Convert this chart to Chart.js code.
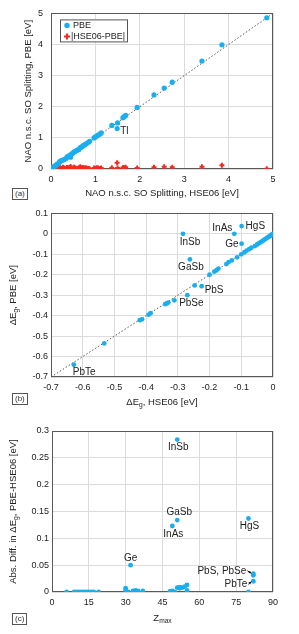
<!DOCTYPE html>
<html>
<head>
<meta charset="utf-8">
<script src="https://cdn.jsdelivr.net/npm/chart.js@4.4.1/dist/chart.umd.min.js"></script>
<style>
body{margin:0;background:#fff;width:299px;height:634px;position:relative;overflow:hidden;font-family:"Liberation Sans",Arial,sans-serif}
canvas{position:absolute;left:0}
.tag{position:absolute;border:1px solid #555;font-size:8px;line-height:10px;padding:0 2px;color:#333;background:#fff}
</style>
</head>
<body>
<canvas id="chartA" width="299" height="205" style="top:0"></canvas>
<canvas id="chartB" width="299" height="210" style="top:205px"></canvas>
<canvas id="chartC" width="299" height="219" style="top:415px"></canvas>
<div class="tag" style="left:12px;top:188px">(a)</div>
<div class="tag" style="left:12px;top:393px">(b)</div>
<div class="tag" style="left:12px;top:613px">(c)</div>
<script>
// (a) SO splitting, HSE06 vs PBE
const aHse = [0.02,0.04,0.06,0.08,0.10,0.12,0.14,0.17,0.19,0.21,0.24,0.27,0.30,0.33,0.36,0.38,0.41,0.44,0.46,0.49,0.52,0.55,0.58,0.60,0.63,0.66,0.69,0.72,0.74,0.77,0.80,0.84,0.87,0.97,1.00,1.03,1.06,1.10,1.13,1.37,1.49,1.50,1.62,1.65,1.68,1.94,2.32,2.55,2.73,3.40,3.85,4.86]
const aPbe = [0.02,0.04,0.07,0.09,0.10,0.13,0.15,0.18,0.22,0.25,0.27,0.29,0.31,0.33,0.38,0.40,0.43,0.38,0.48,0.51,0.55,0.57,0.60,0.61,0.63,0.69,0.71,0.74,0.76,0.79,0.82,0.86,0.89,1.00,1.03,1.06,1.09,1.12,1.16,1.40,1.30,1.48,1.65,1.68,1.72,1.98,2.38,2.60,2.79,3.47,3.99,4.86]
const aDiff = [0.00,0.01,0.02,0.03,0.01,0.02,0.04,0.03,0.05,0.04,0.02,0.06,0.03,0.01,0.05,0.02,0.04,0.08,0.03,0.02,0.06,0.03,0.01,0.02,0.04,0.07,0.03,0.05,0.02,0.04,0.03,0.02,0.01,0.03,0.02,0.04,0.03,0.02,0.03,0.04,0.20,0.03,0.05,0.04,0.06,0.03,0.06,0.07,0.06,0.07,0.12,0.01]
const aLabels = [{t:"Tl", x:1.49, y:1.30}]

// (b) band gap change
const bHse = [-0.628,-0.532,-0.420,-0.413,-0.392,-0.386,-0.340,-0.335,-0.330,-0.311,-0.284,-0.270,-0.262,-0.247,-0.225,-0.200,-0.185,-0.178,-0.172,-0.147,-0.140,-0.130,-0.122,-0.113,-0.099,-0.099,-0.100,-0.090,-0.083,-0.075,-0.068,-0.057,-0.050,-0.045,-0.040,-0.035,-0.030,-0.026,-0.022,-0.018,-0.014,-0.010,-0.007,-0.004,-0.002,0.000]
const bPbe = [-0.640,-0.536,-0.422,-0.418,-0.395,-0.388,-0.344,-0.340,-0.336,-0.325,0.000,-0.300,-0.125,-0.252,-0.256,-0.200,-0.185,-0.178,-0.170,-0.148,-0.138,-0.130,0.000,-0.115,0.038,-0.048,-0.100,-0.090,-0.082,-0.075,-0.068,-0.060,-0.052,-0.047,-0.042,-0.037,-0.032,-0.027,-0.023,-0.019,-0.015,-0.011,-0.007,-0.004,-0.002,0.000]
const bLabels = [
  {t:"InSb", x:-0.284, y:0.000},
  {t:"InAs", x:-0.122, y:0.000},
  {t:"HgS", x:-0.099, y:0.038},
  {t:"Ge", x:-0.099, y:-0.048},
  {t:"GaSb", x:-0.262, y:-0.125},
  {t:"PbS", x:-0.225, y:-0.256},
  {t:"PbSe", x:-0.270, y:-0.300},
  {t:"PbTe", x:-0.628, y:-0.640}
]

// (c) abs diff vs Zmax
const cZ = [6,9,10,11,12,13,14,15,16,17,19,30,30,31,32,33,34,35,37,37,48,49,49,50,51,51,51,52,52,53,54,55,55,80,80,82,82,82]
const cDiff = [0,0,0,0,0,0,0,0,0,0,0,0.007,0.003,0,0.050,0.002,0.003,0.002,0.002,0,0.001,0.002,0.123,0,0.284,0.134,0.008,0.009,0.007,0.008,0.010,0.013,0.003,0.137,0,0.034,0.031,0.020]
const cLabels = [
  {t:"InSb", x:51, y:0.284},
  {t:"GaSb", x:51, y:0.134},
  {t:"InAs", x:49, y:0.123},
  {t:"HgS", x:80, y:0.137},
  {t:"Ge", x:32, y:0.050},
  {t:"PbS, PbSe", x:82, y:0.034},
  {t:"PbTe", x:82, y:0.020}
]

// label offsets (style only)
const labelStyle = {
  a: {Tl:[3,3,"left"]},
  b: {InSb:[7,8,"center"], InAs:[-2,-6,"right"], HgS:[4,0,"left"], Ge:[-3,1,"right"], GaSb:[1,8,"center"], PbS:[3,4,"left"], PbSe:[4,8,"center"], PbTe:[-1,8,"left"]},
  c: {InSb:[1,8,"center"], GaSb:[2,-8,"center"], InAs:[1,8,"center"], HgS:[1,8,"center"], Ge:[0,-7,"center"], "PbS, PbSe":[-7,-3,"right",true], PbTe:[-6,3,"right",true]}
}

const BLUE = "#1aaef0"
const RED = "#f52a1e"
const FONT = '"Liberation Sans", Arial, sans-serif'
const toPts = (xs, ys) => xs.map((x, i) => ({x, y: ys[i]}))

function richText(ctx, parts, x, y, size, align) {
  let w = 0
  parts.forEach(p => {
    ctx.font = (p.sub ? size*0.7 : size) + "px " + FONT
    w += ctx.measureText(p.t).width
  })
  let cx = align === "center" ? x - w/2 : x
  ctx.textAlign = "left"
  ctx.textBaseline = "middle"
  parts.forEach(p => {
    ctx.font = (p.sub ? size*0.7 : size) + "px " + FONT
    ctx.fillText(p.t, cx, p.sub ? y + size*0.3 : y)
    cx += ctx.measureText(p.t).width
  })
}

const extras = {
  id: "extras",
  beforeDatasetsDraw(chart) {
    const a = chart.chartArea, ctx = chart.ctx
    ctx.save()
    ctx.strokeStyle = "#595959"
    ctx.lineWidth = 1
    ctx.strokeRect(Math.round(a.left)+0.5, Math.round(a.top)+0.5, Math.round(a.right-a.left)-1, Math.round(a.bottom-a.top)-1)
    ctx.restore()
  },
  afterDraw(chart) {
    const o = chart.options.plugins.extras
    const a = chart.chartArea, ctx = chart.ctx
    const xs = chart.scales.x, ys = chart.scales.y
    ctx.save()
    ctx.fillStyle = "#222"
    richText(ctx, o.xTitle, (a.left+a.right)/2, o.xTitleY, 9.5, "center")
    ctx.save()
    ctx.translate(o.yTitleX, (a.top+a.bottom)/2 + (o.yTitleDy||0))
    ctx.rotate(-Math.PI/2)
    richText(ctx, o.yTitle, 0, 0, 9.5, "center")
    ctx.restore()
    ctx.font = "10px " + FONT
    ctx.textBaseline = "middle"
    o.labels.forEach(l => {
      const s = o.style[l.t]
      const px = xs.getPixelForValue(l.x), py = ys.getPixelForValue(l.y)
      ctx.textAlign = s[2]
      ctx.fillText(l.t, px + s[0], py + s[1])
      if (s[3]) {
        const sx = px + s[0] + 1, sy = py + s[1]
        const ex = px - 2, ey = py + (s[1] < 0 ? -0.5 : 0.5)
        ctx.strokeStyle = "#111"; ctx.lineWidth = 1
        ctx.beginPath(); ctx.moveTo(sx, sy); ctx.lineTo(ex, ey); ctx.stroke()
        const ang = Math.atan2(ey-sy, ex-sx)
        ctx.beginPath()
        ctx.moveTo(ex, ey)
        ctx.lineTo(ex - 3*Math.cos(ang-0.5), ey - 3*Math.sin(ang-0.5))
        ctx.lineTo(ex - 3*Math.cos(ang+0.5), ey - 3*Math.sin(ang+0.5))
        ctx.closePath(); ctx.fillStyle = "#111"; ctx.fill(); ctx.fillStyle = "#222"
      }
    })
    if (o.legend) {
      const lx = a.left + 9, ly = a.top + 6
      ctx.fillStyle = "#fff"; ctx.fillRect(lx, ly, 67, 22)
      ctx.strokeStyle = "#555"; ctx.lineWidth = 1
      ctx.strokeRect(lx+0.5, ly+0.5, 67, 22)
      ctx.fillStyle = BLUE
      ctx.beginPath(); ctx.arc(lx+7, ly+6, 2.7, 0, Math.PI*2); ctx.fill()
      ctx.strokeStyle = RED; ctx.lineWidth = 2
      ctx.beginPath(); ctx.moveTo(lx+4, ly+17); ctx.lineTo(lx+10, ly+17); ctx.moveTo(lx+7, ly+14); ctx.lineTo(lx+7, ly+20); ctx.stroke()
      ctx.fillStyle = "#222"; ctx.font = "9px " + FONT; ctx.textAlign = "left"
      ctx.fillText("PBE", lx+13, ly+6.5)
      ctx.fillText("|HSE06-PBE|", lx+11, ly+17.5)
    }
    ctx.restore()
  }
}

function fmt(v) { return String(Number(v.toFixed(2))) }

function makeChart(id, datasets, sc, ex) {
  return new Chart(document.getElementById(id), {
    type: "scatter",
    data: {datasets},
    plugins: [extras],
    options: {
      responsive: false, animation: false, devicePixelRatio: 1,
      layout: {padding: {top: sc.top, right: 26, left: 0, bottom: 0}},
      plugins: {legend: {display: false}, tooltip: {enabled: false}, extras: ex},
      scales: {
        x: {
          type: "linear", min: sc.xMin, max: sc.xMax,
          afterFit: s => { s.height = sc.xh },
          afterBuildTicks: s => { s.ticks = sc.xTicks.map(v => ({value: v})) },
          grid: {color: "#dcdcdc", drawTicks: false},
          border: {display: false},
          ticks: {padding: 5, color: "#222", font: {family: FONT, size: 9}, callback: fmt, maxRotation: 0, autoSkip: false}
        },
        y: {
          type: "linear", min: sc.yMin, max: sc.yMax,
          afterFit: s => { s.width = sc.yw },
          afterBuildTicks: s => { s.ticks = sc.yTicks.map(v => ({value: v})) },
          grid: {color: "#dcdcdc", drawTicks: false},
          border: {display: false},
          ticks: {padding: sc.yPad, color: "#222", font: {family: FONT, size: 9}, callback: fmt, autoSkip: false}
        }
      }
    }
  })
}

const dotted = (x0, x1) => ({type: "line", data: [{x: x0, y: x0}, {x: x1, y: x1}], showLine: true, pointRadius: 0, borderColor: "#555", borderWidth: 1, borderDash: [1.5, 2]})

makeChart("chartA", [
  {data: toPts(aHse, aPbe), backgroundColor: BLUE, borderWidth: 0, pointRadius: 2.6},
  {data: toPts(aHse, aDiff), pointStyle: "cross", borderColor: RED, borderWidth: 2, pointRadius: 2.5},
  dotted(0, 5)
], {top: 7, xh: 36, yw: 51, yPad: 8, xMin: 0, xMax: 5, yMin: 0, yMax: 5, xTicks: [0,1,2,3,4,5], yTicks: [0,1,2,3,4,5]},
{xTitle: [{t: "NAO n.s.c. SO Splitting, HSE06 [eV]"}], xTitleY: 193, yTitle: [{t: "NAO n.s.c. SO Splitting, PBE [eV]"}], yTitleX: 28, labels: aLabels, style: labelStyle.a, legend: true})

makeChart("chartB", [
  {data: toPts(bHse, bPbe), backgroundColor: BLUE, borderWidth: 0, pointRadius: 2.4},
  dotted(-0.7, 0)
], {top: 8, xh: 38, yw: 51, yPad: 3, xMin: -0.7, xMax: 0, yMin: -0.7, yMax: 0.1, xTicks: [-0.7,-0.6,-0.5,-0.4,-0.3,-0.2,-0.1,0], yTicks: [-0.7,-0.6,-0.5,-0.4,-0.3,-0.2,-0.1,0,0.1]},
{xTitle: [{t: "ΔE"}, {t: "g", sub: true}, {t: ", HSE06 [eV]"}], xTitleY: 197, yTitle: [{t: "ΔE"}, {t: "g", sub: true}, {t: ", PBE [eV]"}], yTitleX: 13, labels: bLabels, style: labelStyle.b})

makeChart("chartC", [
  {data: toPts(cZ, cDiff), backgroundColor: BLUE, borderWidth: 0, pointRadius: 2.4}
], {top: 16, xh: 42, yw: 52, yPad: 3, xMin: 0, xMax: 90, yMin: 0, yMax: 0.3, xTicks: [0,15,30,45,60,75,90], yTicks: [0,0.05,0.1,0.15,0.2,0.25,0.3]},
{xTitle: [{t: "Z"}, {t: "max", sub: true}], xTitleY: 203, yTitle: [{t: "Abs. Diff. in ΔE"}, {t: "g", sub: true}, {t: ", PBE-HSE06 [eV]"}], yTitleX: 13, labels: cLabels, style: labelStyle.c})
</script>
</body>
</html>
